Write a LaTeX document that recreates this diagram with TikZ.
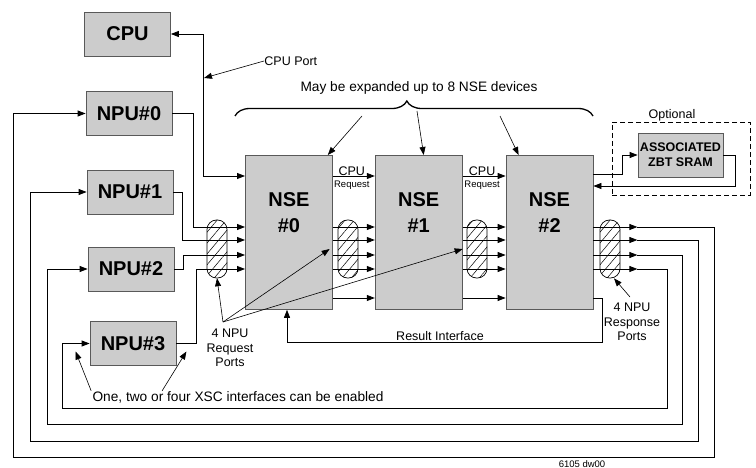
\documentclass[tikz,border=0pt]{standalone}
\usepackage{fontspec}
\setmainfont{Liberation Sans}
\usepackage{tikz}
\usetikzlibrary{arrows.meta, positioning, patterns.meta, decorations.pathreplacing}
\colorlet{colorChip}{black!20}
\colorlet{colorEdge}{black!65}
\tikzset{lbl/.style={font=\fontsize{12.5}{15}\selectfont, inner sep=0pt, align=center},
  biglbl/.style={font=\fontsize{13.7}{16}\selectfont, inner sep=0pt, align=center},
  tinylbl/.style={font=\fontsize{9.5}{11}\selectfont, inner sep=0pt}}

\begin{document}
\begin{tikzpicture}[x=1pt, y=-1pt, >={Triangle[length=8pt,width=6pt]}, line width=0.8pt,
  chip/.style={draw=colorEdge, fill=colorChip, font=\fontsize{20}{26}\selectfont\bfseries, align=center, inner sep=0pt},
  npu/.style={chip, minimum width=86pt, minimum height=44pt},
  nse/.style={chip, minimum width=87pt, minimum height=154pt},
  bus/.style={draw, line width=0.7pt, rounded corners=9.5pt, minimum width=20pt, minimum height=58pt, inner sep=0pt, pattern={Lines[angle=50, distance=7pt, line width=0.5pt]}},
  note/.style={->, line width=0.6pt}]
\useasboundingbox (0,0) rectangle (756,468);
\node[npu] (cpu) at (127.5,34) {CPU};
\node[npu] (npu0) at (129,113.5) {NPU\#0};
\node[npu] (npu1) at (130,192) {NPU\#1};
\node[npu] (npu2) at (131,269) {NPU\#2};
\node[npu] (npu3) at (133,343.5) {NPU\#3};
\node[nse, anchor=north west, label={[yshift=20pt, font=\fontsize{20}{26}\selectfont\bfseries, align=center]center:NSE\\\#0}] (nse0) at (245,155) {};
\node[nse, right=42pt of nse0, label={[yshift=20pt, font=\fontsize{20}{26}\selectfont\bfseries, align=center]center:NSE\\\#1}] (nse1) {};
\node[nse, right=43pt of nse1, label={[yshift=20pt, font=\fontsize{20}{26}\selectfont\bfseries, align=center]center:NSE\\\#2}] (nse2) {};
\node[draw, dash pattern=on 5pt off 3pt, line width=0.6pt, minimum width=138pt, minimum height=73pt, inner sep=0pt] (opt) at (681,158.5) {};
\node[lbl, above=0pt of opt.north, xshift=-9pt] (optlbl) {Optional};
\node[chip, font=\fontsize{12.5}{15}\selectfont\bfseries, minimum width=85pt, minimum height=44pt] (sram) at (680.5,155) {ASSOCIATED\\ZBT SRAM};
\node[bus] (bus0) at (217,249) {};
\node[bus] (bus1) at (348,249) {};
\node[bus] (bus2) at (477,249) {};
\node[bus] (bus3) at (610,249) {};
\node[biglbl] (expand) at (419,88) {May be expanded up to 8 NSE devices};
\draw[line width=1.3pt, decorate, decoration={brace, amplitude=15pt, aspect=0.48}] (235,116) -- (593,116);
\coordinate (br0) at (362,116);
\coordinate (br1) at (417,111);
\coordinate (br2) at (500,116);
\draw[note] (br0) -- ([xshift=-5pt]nse0.north east);
\draw[note] (br1) -- ([xshift=5pt]nse1.north);
\draw[note] (br2) -- ([xshift=13pt]nse2.north west);
\node[lbl, anchor=west] (cpuport) at (264,61) {CPU Port};
\coordinate (cpuj) at (204,78);
\draw[note] (cpuport.west) -- (cpuj);
\draw[<->] (cpu.east) -- ++(32,0) |- ([yshift=-21pt]nse0.north west);
\draw[->] (npu0.east) -- ++(21,0) |- ([yshift=-72pt]nse0.north west);
\draw[->] (npu1.east) -- ++(9,0) |- ([yshift=-85pt]nse0.north west);
\draw[->] (npu2.east) -- ++(9,0) |- ([yshift=-100pt]nse0.north west);
\draw[->] (npu3.east) -- ++(20,0) |- ([yshift=-114pt]nse0.north west);
\foreach \row in {72,85,100,114,143}{
  \draw[->] ([yshift=-\row pt]nse0.north east) -- ([yshift=-\row pt]nse1.north west);
  \draw[->] ([yshift=-\row pt]nse1.north east) -- ([yshift=-\row pt]nse2.north west);
}
\draw[->] ([yshift=-21pt]nse0.north east) -- ([yshift=-21pt]nse1.north west) node[lbl, midway, above, xshift=-2pt] (cpu0lbl) {CPU} node[tinylbl, midway, below=5pt, xshift=-2pt] (req0lbl) {Request};
\draw[->] ([yshift=-21pt]nse1.north east) -- ([yshift=-21pt]nse2.north west) node[lbl, midway, above, xshift=-2pt] (cpu1lbl) {CPU} node[tinylbl, midway, below=5pt, xshift=-2pt] (req1lbl) {Request};
\draw[->] ([yshift=-19pt]nse2.north east) -| ([xshift=-15pt]sram.west) -- (sram.west);
\draw[->] (sram.east) -- ++(12,0) |- ([yshift=-31pt]nse2.north east);
\foreach \i/\row/\x/\y/\d in {0/72/714/457/72, 1/85/698/441/56, 2/100/682/424/40, 3/114/667/408/27}{
  \draw[->] ([yshift=-\row pt]nse2.north east) -- ++(44,0) coordinate (rsp\i);
  \draw[->] (rsp\i) -| (\x,\y) -| ([xshift=-\d pt]npu\i.west) -- (npu\i.west);
}
\draw[->] ([yshift=-143pt]nse2.north east) -- ++(9,0) |- ([xshift=42pt, yshift=-33pt]nse0.south west) -- ([xshift=42pt]nse0.south west);
\node[lbl, anchor=base] (resultlbl) at (440,340) {Result Interface};
\node[lbl, anchor=north] (reqlbl) at (230,328) {4 NPU\\Request\\Ports};
\coordinate (reqfan) at (223,322);
\draw[note] (reqfan) -- (bus0.south);
\draw[note] (reqfan) -- ([xshift=-8pt]bus1.west);
\draw[note] (reqfan) -- ([xshift=-4pt]bus2.west);
\node[lbl, anchor=north] (rsplbl) at (632,302) {4 NPU\\Response\\Ports};
\draw[note] ([xshift=-2pt, yshift=5pt]rsplbl.north) -- ([xshift=4pt]bus3.south);
\node[biglbl] (xsc) at (238,397) {One, two or four XSC interfaces can be enabled};
\draw[note] ([xshift=-1pt]xsc.north west) -- ([xshift=-14pt, yshift=-8pt]npu3.west);
\draw[note] ([xshift=70pt]xsc.north west) -- ([xshift=10pt, yshift=-8pt]npu3.east);
\node[tinylbl] (dwg) at (582,464) {6105 dw00};
\end{tikzpicture}
\end{document}
